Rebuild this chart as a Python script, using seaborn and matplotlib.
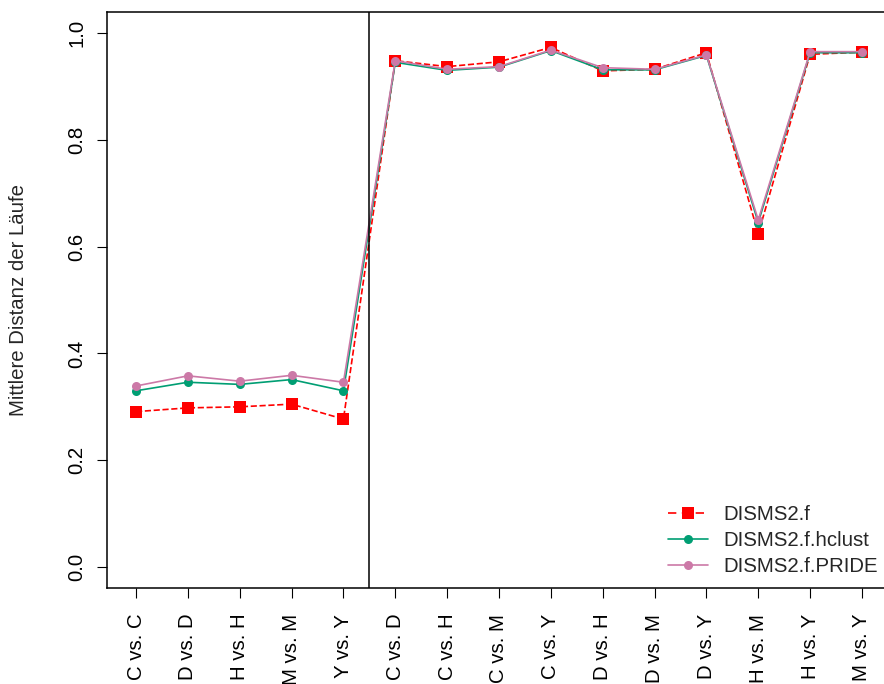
import matplotlib
matplotlib.use("Agg")
import matplotlib.pyplot as plt
from matplotlib.lines import Line2D
import seaborn as sns
import pandas as pd
import numpy as np

# Pairwise comparisons of the runs
comparisons = ["C vs. C", "D vs. D", "H vs. H", "M vs. M", "Y vs. Y",
               "C vs. D", "C vs. H", "C vs. M", "C vs. Y", "D vs. H",
               "D vs. M", "D vs. Y", "H vs. M", "H vs. Y", "M vs. Y"]

dist_f = [0.291, 0.298, 0.300, 0.305, 0.277,
          0.948, 0.937, 0.946, 0.973, 0.929,
          0.932, 0.963, 0.624, 0.960, 0.964]
dist_hclust = [0.330, 0.346, 0.342, 0.351, 0.330,
               0.945, 0.930, 0.936, 0.967, 0.931,
               0.931, 0.958, 0.645, 0.963, 0.963]
dist_pride = [0.339, 0.358, 0.348, 0.359, 0.346,
              0.948, 0.932, 0.937, 0.968, 0.935,
              0.932, 0.959, 0.650, 0.965, 0.965]

series_names = ["DISMS2.f", "DISMS2.f.hclust", "DISMS2.f.PRIDE"]
series_values = [dist_f, dist_hclust, dist_pride]
y_ticks = [0.0, 0.2, 0.4, 0.6, 0.8, 1.0]

sns.set_theme(style="white")
plt.rcParams["font.family"] = ["Liberation Sans", "DejaVu Sans"]
FS = 14.7

pos = np.arange(1, len(comparisons) + 1)
df = pd.concat(
    [pd.DataFrame({"pos": pos, "comparison": comparisons, "value": v, "series": n})
     for n, v in zip(series_names, series_values)],
    ignore_index=True,
)

styles = {
    "DISMS2.f": dict(color="#FF0000", marker="s", markersize=9, dashes=(5, 3.3)),
    "DISMS2.f.hclust": dict(color="#009E73", marker="o", markersize=6.5, dashes=None),
    "DISMS2.f.PRIDE": dict(color="#CC79A7", marker="o", markersize=6.5, dashes=None),
}

fig = plt.figure(figsize=(8.84, 6.84), dpi=100)
W, H = 884, 684
left_px, right_px, top_px, bottom_px = 107, 891, 11.6, 588.4
ax = fig.add_axes([left_px / W, 1 - bottom_px / H,
                   (right_px - left_px) / W, (bottom_px - top_px) / H])

for name in series_names:
    st = styles[name]
    sub = df[df["series"] == name]
    sns.lineplot(data=sub, x="pos", y="value", ax=ax, color=st["color"],
                 marker=st["marker"], markersize=st["markersize"],
                 markeredgewidth=0, linewidth=1.2, legend=False,
                 linestyle="--" if st["dashes"] else "-",
                 dashes=st["dashes"] if st["dashes"] else "", estimator=None)

# separator between same-species and cross-species comparisons
ax.axvline(5.5, color="black", linewidth=1.1)

ax.set_xlim(0.44, 15.56)
ax.set_ylim(-0.04, 1.04)
ax.set_xticks(pos)
ax.set_xticklabels(comparisons, rotation=90, fontsize=FS)
ax.set_yticks(y_ticks)
ax.set_yticklabels([f"{t:.1f}" for t in y_ticks], rotation=90, va="center",
                   fontsize=FS)
ax.set_xlabel("")
ax.set_ylabel("Mittlere Distanz der Läufe", fontsize=FS)
ax.yaxis.set_label_coords((28 - left_px) / (right_px - left_px), 0.5)

ax.tick_params(axis="both", which="both", direction="out", length=7.2,
               width=0.8, color="black", labelcolor="black", bottom=True,
               left=True)
ax.tick_params(axis="x", pad=11)
ax.tick_params(axis="y", pad=7.5)
for s in ax.spines.values():
    s.set_color("black")
    s.set_linewidth(1.1)
ax.grid(False)

handles = []
for name in series_names:
    st = styles[name]
    h = Line2D([], [], color=st["color"], marker=st["marker"],
               markersize=st["markersize"], markeredgewidth=0, linewidth=1.2,
               linestyle="--" if st["dashes"] else "-")
    if st["dashes"]:
        h.set_dashes(st["dashes"])
    handles.append(h)

fig.legend(handles, series_names, loc="upper left",
           bbox_to_anchor=(668 / W, 1 - 505 / H), frameon=False,
           fontsize=FS, handlelength=1.96, handletextpad=0.75,
           labelspacing=0.34, borderpad=0, borderaxespad=0)

fig.savefig("out.png", dpi=100)
